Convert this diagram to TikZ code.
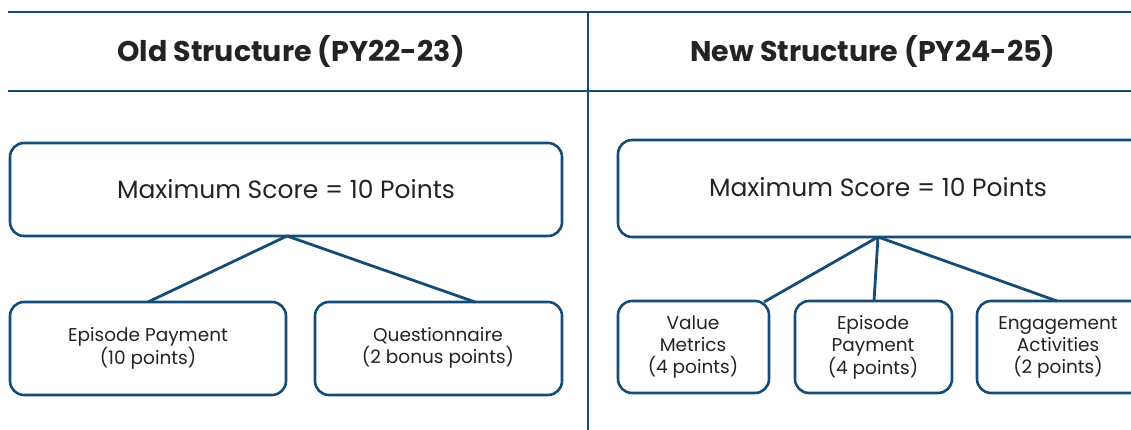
\documentclass[tikz,border=0pt]{standalone}
\usepackage{fontspec}
\setmainfont{Poppins}
\definecolor{navy}{RGB}{20,76,118}
\definecolor{ink}{RGB}{35,35,35}
\begin{document}
\begin{tikzpicture}[x=1pt,y=-1pt,
  rbox/.style={draw=navy,line width=2.6pt,rounded corners=14pt,inner sep=0pt},
  conn/.style={draw=navy,line width=2.8pt},
  rule/.style={draw=navy,line width=2.8pt},
  head/.style={font=\fontsize{28.5}{32}\selectfont\bfseries,text=ink},
  big/.style={font=\fontsize{25}{30}\selectfont,text=ink},
  small/.style={font=\fontsize{18.5}{22}\selectfont,text=ink,align=center}]
\useasboundingbox (0,0) rectangle (1131,430);
% rules
\coordinate (tl) at (8,12); \coordinate (tr) at (1135,12);
\coordinate (ml) at (8,91); \coordinate (mr) at (1135,91);
\coordinate (vt) at (588,12); \coordinate (vb) at (588,432);
\draw[rule] (tl) -- (tr);
\draw[rule] (ml) -- (mr);
\draw[rule] (vt) -- (vb);
% headings
\node[head] (hold) at (291,51) {Old Structure (PY22-23)};
\node[head] (hnew) at (873,51) {New Structure (PY24-25)};
% old structure
\draw[rbox] (10,143) rectangle (562,236);
\node[big] (oldtop) at (286,189) {Maximum Score = 10 Points};
\coordinate (oldtopb) at (287,236);
\draw[rbox] (10,302) rectangle (286,395);
\node[small] (oldA) at (148,348) {Episode Payment\\(10 points)};
\coordinate (oldAt) at (148,302);
\draw[rbox] (315,302) rectangle (562,395);
\node[small] (oldB) at (438,348) {Questionnaire\\(2 bonus points)};
\coordinate (oldBt) at (475,302);
\draw[conn] (oldtopb) -- (oldAt);
\draw[conn] (oldtopb) -- (oldBt);
% new structure
\draw[rbox] (618,140) rectangle (1150,237);
\node[big] (newtop) at (878,187) {Maximum Score = 10 Points};
\coordinate (newtopb) at (878,237);
\draw[rbox] (618,301) rectangle (769,393);
\node[small] (newA) at (693,347) {Value\\Metrics\\(4 points)};
\coordinate (newAt) at (764,302);
\draw[rbox] (795,301) rectangle (952,393);
\node[small] (newB) at (873,347) {Episode\\Payment\\(4 points)};
\coordinate (newBt) at (874,301);
\draw[rbox] (977,301) rectangle (1150,393);
\node[small] (newC) at (1058,347) {Engagement\\Activities\\(2 points)};
\coordinate (newCt) at (1057,301);
\draw[conn] (newtopb) -- (newAt);
\draw[conn] (newtopb) -- (newBt);
\draw[conn] (newtopb) -- (newCt);
\end{tikzpicture}
\end{document}
